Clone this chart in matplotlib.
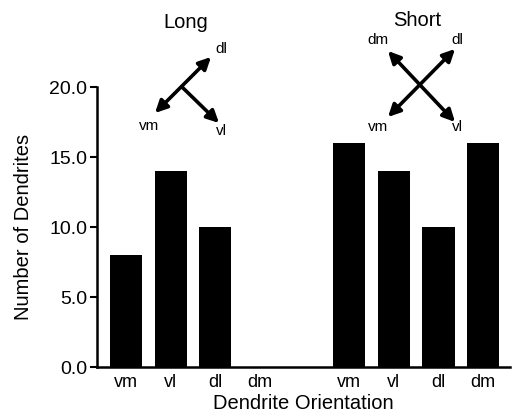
import numpy as np
import matplotlib
matplotlib.use("Agg")
import matplotlib.pyplot as plt

plt.rcParams['font.family'] = ['Liberation Sans', 'DejaVu Sans']

# data
categories = ['vm', 'vl', 'dl', 'dm', 'vm', 'vl', 'dl', 'dm']
positions = [0, 1, 2, 3, 5, 6, 7, 8]
counts = [8, 14, 10, 0, 16, 14, 10, 16]
yticks = [0, 5, 10, 15, 20]

W, H = 512, 415
fig = plt.figure(figsize=(W / 100, H / 100), dpi=100)
ax = fig.add_axes([97 / W, 1 - 367 / H, (510 - 97) / W, (367 - 87) / H])

ax.bar(positions, counts, width=0.72, color='black')
ax.set_xlim(-0.65, 8.6)
ax.set_ylim(0, 20)
ax.set_yticks(yticks)
ax.set_yticklabels([f"{v:.1f}" for v in yticks], fontsize=14)
ax.set_xticks(positions)
ax.set_xticklabels(categories, fontsize=13)
ax.tick_params(axis='x', length=0, pad=5)
ax.tick_params(axis='y', length=5, width=1.5, pad=2)
for s in ['top', 'right']:
    ax.spines[s].set_visible(False)
ax.spines['left'].set_linewidth(1.8)
ax.spines['bottom'].set_linewidth(1.8)
ax.set_xlabel('Dendrite Orientation', fontsize=14.5, labelpad=2)
ax.set_ylabel('Number of Dendrites', fontsize=14.5, labelpad=12)


# orientation diagrams above the bars (figure pixel positions)
def px(x, y):
    return (x / W, 1 - y / H)


def arrow(start, end, style):
    fig.add_artist(matplotlib.patches.FancyArrowPatch(
        px(*start), px(*end), transform=fig.transFigure,
        arrowstyle=style, mutation_scale=18, lw=2.6, color='black',
        shrinkA=0, shrinkB=0))


fig.text(*px(186, 22), 'Long', fontsize=14.5, ha='center', va='center')
arrow((155, 113), (211, 57), '<|-|>')
arrow((182, 87), (219, 123), '-|>')
fig.text(*px(221, 49), 'dl', fontsize=11, ha='center', va='center')
fig.text(*px(149, 126), 'vm', fontsize=11, ha='center', va='center')
fig.text(*px(221, 131), 'vl', fontsize=11, ha='center', va='center')

fig.text(*px(417, 21), 'Short', fontsize=14.5, ha='center', va='center')
arrow((388, 117), (455, 49), '<|-|>')
arrow((388, 51), (455, 122), '<|-|>')
fig.text(*px(378, 40), 'dm', fontsize=11, ha='center', va='center')
fig.text(*px(457, 40), 'dl', fontsize=11, ha='center', va='center')
fig.text(*px(378, 127), 'vm', fontsize=11, ha='center', va='center')
fig.text(*px(457, 127), 'vl', fontsize=11, ha='center', va='center')

fig.savefig('out.png', dpi=100)
